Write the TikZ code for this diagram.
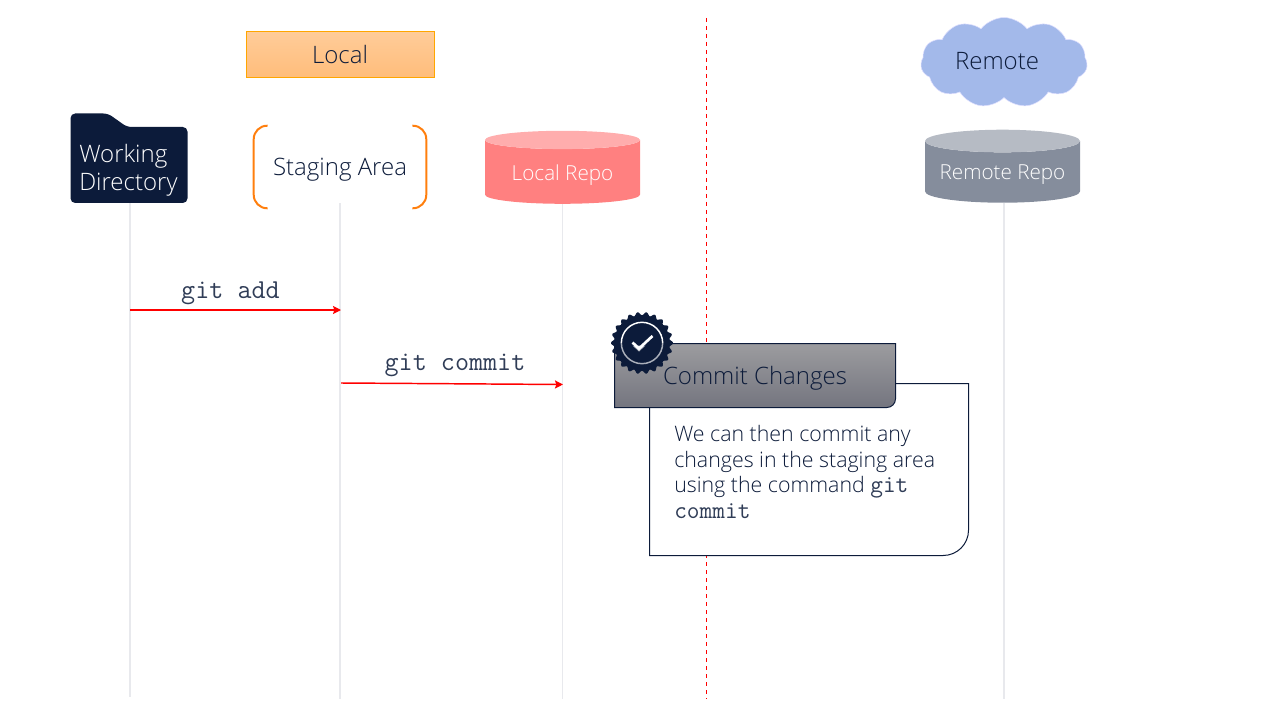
\documentclass[tikz,border=0pt]{standalone}
\usepackage{xcolor}
\usepackage{fontspec}
\setmainfont{Open Sans Light}
\usepackage{tikz}
\usetikzlibrary{shapes,shapes.geometric,shapes.symbols,arrows,arrows.meta,positioning}

\definecolor{navy}{HTML}{0C1B3A}
\definecolor{lifeline}{HTML}{E8E9ED}
\definecolor{bracketorange}{HTML}{FF7F0E}
\definecolor{cloudblue}{HTML}{A3B9EA}
\definecolor{titletop}{HTML}{9C9C9F}
\definecolor{titlebottom}{HTML}{74757F}
\newcommand{\lowertext}[1]{\raisebox{-2.25pt}[\height][\depth]{#1}}

\begin{document}
\begin{tikzpicture}[
    x=0.75pt, y=-0.75pt,
    label/.style={font=\fontsize{18}{22}\selectfont, text=navy, align=center},
    repo/.style={cylinder, shape border rotate=90, aspect=0.18, cylinder uses custom fill, minimum width=116.25pt, minimum height=54.75pt, inner sep=0pt, text=white, font=\fontsize{15.5}{19}\selectfont},
    life/.style={lifeline, line width=1.1pt},
    arrow/.style={-{Stealth[length=6pt, width=6pt, inset=1pt]}, red, line width=1.1pt},
    gitcmd/.style={font=\ttfamily\fontsize{20.5}{22}\selectfont, text=navy!85!white}
]
\useasboundingbox (0,0) rectangle (1280,720);

% Local / Remote split
\coordinate (splittop) at (706,18);
\coordinate (splitend) at (706,699);
\draw[red, dashed, line width=0.7pt] (splittop) -- (splitend);

% Header boxes
\shade[top color=orange!40!white, bottom color=orange!52!white, draw=orange!70!yellow, line width=0.75pt] (246.5,31.5) rectangle (434.5,78);
\node[label] (local) at (340,55) {Local};
\node[cloud, cloud puffs=11, cloud puff arc=105, aspect=1.9, fill=cloudblue, draw=white!88!blue, minimum width=125pt, minimum height=67.5pt, inner sep=0pt] (cloud) at (1004,62.5) {};
\node[label] (remote) at (997,61) {Remote};

% Participants
\fill[navy, rounded corners=3.5pt] (70.5,113.5) -- (108,113.5) -- (127,127) -- (187.5,127) -- (187.5,203) -- (70.5,203) -- cycle;
\node[minimum width=87.75pt, minimum height=67.5pt, inner sep=0pt] (wdir) at (129,158) {};
\node[label, align=left, text=white, anchor=west, inner sep=0pt, font=\fontsize{18}{21}\selectfont] (wdirtext) at (79,170) {Working\\Directory};
\node[label, minimum width=129pt, minimum height=61.5pt, inner sep=0pt] (stage) at (340,167) {\lowertext{Staging Area}};
\draw[bracketorange, line width=1.5pt, rounded corners=10pt] ([xshift=10.5pt]stage.north west) -- (stage.north west) -- (stage.south west) -- ([xshift=10.5pt]stage.south west);
\draw[bracketorange, line width=1.5pt, rounded corners=10pt] ([xshift=-10.5pt]stage.north east) -- (stage.north east) -- (stage.south east) -- ([xshift=-10.5pt]stage.south east);
\node[repo, cylinder body fill=red!50!white, cylinder end fill=red!32!white] (lrepo) at (562.5,172) {\lowertext{Local Repo}};
\node[repo, cylinder body fill=navy!50!white, cylinder end fill=navy!30!white] (rrepo) at (1002.5,172) {\lowertext{Remote Repo}};

% Lifelines
\coordinate (wdirend) at (130,697);
\coordinate (stageend) at (340,699);
\coordinate (lrepoend) at (562.5,699);
\coordinate (rrepoend) at (1004,699);
\draw[life] (wdirend |- wdir.south) -- (wdirend);
\draw[life] ([yshift=3.75pt]stageend |- stage.south) -- (stageend);
\draw[life] (lrepoend |- lrepo.south) -- (lrepoend);
\draw[life] (rrepoend |- rrepo.south) -- (rrepoend);

% Messages
\coordinate (addfrom) at (130,310);
\coordinate (addto) at (341,310);
\coordinate (commitfrom) at (341,383);
\coordinate (committo) at (563,384.5);
\draw[arrow] (addfrom) -- (addto);
\draw[arrow] (commitfrom) -- (committo);
\node[gitcmd] (gitadd) at (230.5,293) {git add};
\node[gitcmd] (gitcommit) at (455,365) {git commit};

% Note
\draw[navy, fill=white, line width=0.75pt] (649.5,383.5) -- (968.5,383.5) [rounded corners=19pt] -- (968.5,555.5) [rounded corners=0pt] -- (649.5,555.5) -- cycle;
\node[text=navy, anchor=north west, align=left, inner sep=0pt, font=\fontsize{16}{19.2}\selectfont] (notetext) at (674,425) {We can then commit any\\changes in the staging area\\using the command {\ttfamily\fontsize{18.5}{19.2}\selectfont\color{navy!85!white} git}\\{\ttfamily\fontsize{18.5}{19.2}\selectfont\color{navy!85!white} commit}};
\shade[top color=titletop, bottom color=titlebottom, draw=navy, line width=0.75pt] (614.5,343.5) -- (895.5,343.5) [rounded corners=6.5pt] -- (895.5,407.5) [rounded corners=0pt] -- (614.5,407.5) -- cycle;
\node[label] (notetitle) at (755,378) {Commit Changes};

% Badge
\fill[navy] plot[domain=0:360, samples=265, smooth] ({642+(29.4+1.6*cos(22*\x))*cos(\x)}, {343+(29.4+1.6*cos(22*\x))*sin(\x)});
\draw[white, line width=1.1pt] (621.33,343) arc[start angle=180, end angle=0, radius=15.5pt];
\draw[white!65!navy, line width=1.1pt] (621.33,343) arc[start angle=180, end angle=360, radius=15.5pt];
\fill[white!70!navy] (632.5,345.5) -- (639,351.5) -- (645.5,345.5) -- cycle;
\draw[white, line width=2pt] (632.5,342.5) -- (639,348.5) -- (652.5,336);

\end{tikzpicture}
\end{document}
